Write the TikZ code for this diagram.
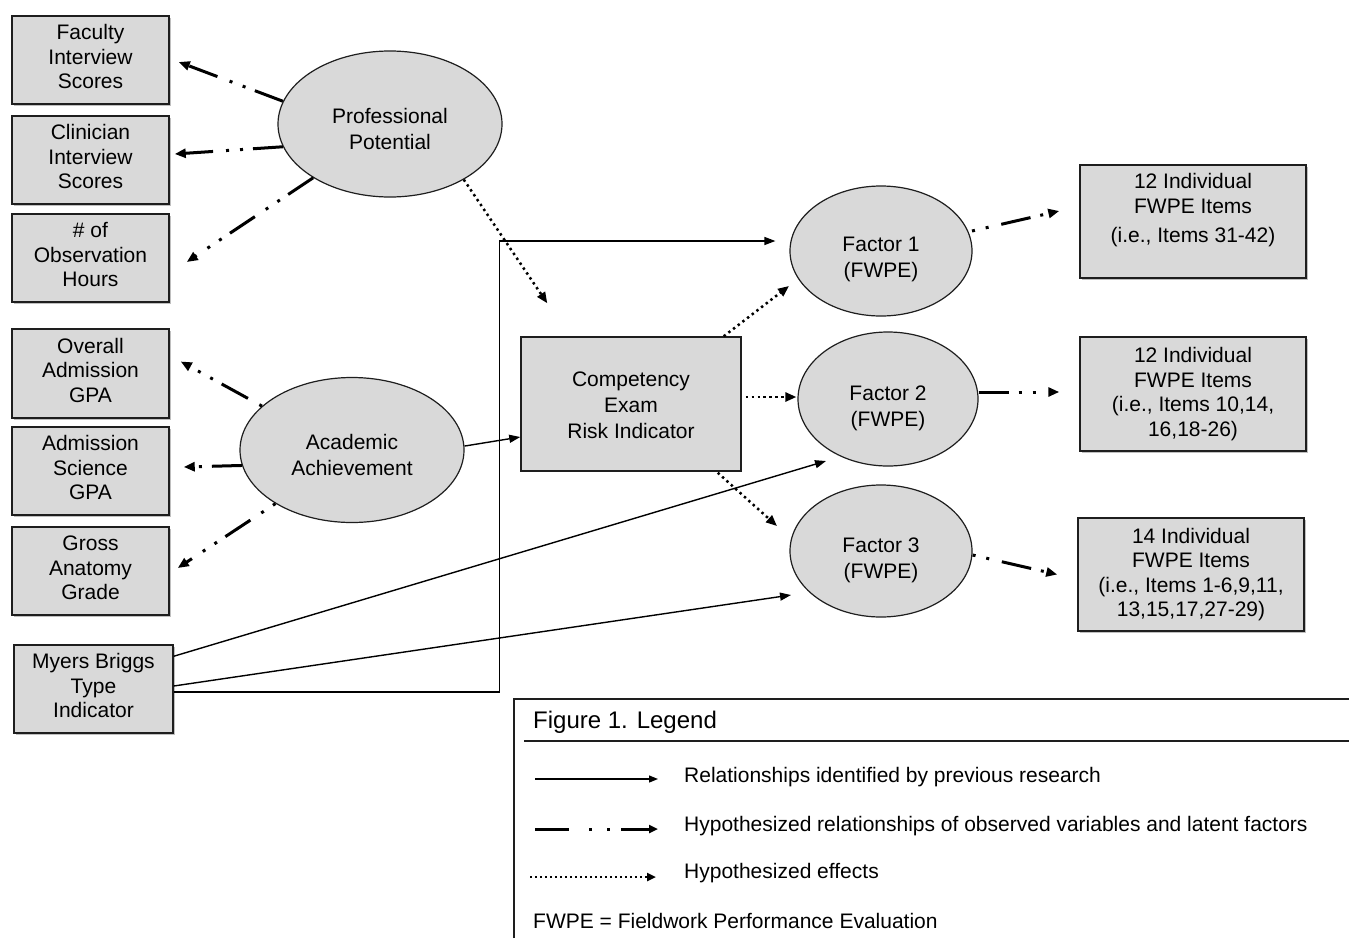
\documentclass[tikz,border=0pt]{standalone}
\usepackage{fontspec}
\setmainfont{Liberation Sans}
\usetikzlibrary{arrows.meta,shapes.geometric,shadows,calc}
\definecolor{boxgray}{RGB}{217,217,217}
\definecolor{edgegray}{RGB}{30,30,30}
\tikzset{
  obox/.style={draw=edgegray, line width=1.5pt, fill=boxgray, align=center, inner sep=0pt,
    font=\fontsize{21}{24.5}\selectfont,
    drop shadow={shadow xshift=2pt, shadow yshift=-2pt, opacity=0.25, fill=black}},
  cbox/.style={draw=edgegray, line width=1.5pt, fill=boxgray, align=center, inner sep=0pt,
    font=\fontsize{21}{26}\selectfont},
  lat/.style={ellipse, draw=edgegray, line width=1.2pt, fill=boxgray, align=center, inner sep=0pt,
    font=\fontsize{21}{26}\selectfont},
  solidarrow/.style={line width=1.4pt, -{Triangle[length=11pt,width=8pt]}},
  dashdotarrow/.style={line width=3pt, dash pattern=on 30pt off 10pt on 3pt off 11pt on 3pt off 13pt,
    -{Triangle[length=11pt,width=9pt]}},
  dotarrow/.style={line width=2.5pt, dash pattern=on 2.4pt off 3.5pt, -{Triangle[length=11pt,width=9pt]}},
  legtext/.style={anchor=west, inner sep=0pt, font=\fontsize{21}{25}\selectfont},
}
\newcommand{\lowtxt}[1]{\rule{0pt}{#1}}
\begin{document}
\begin{tikzpicture}[x=1pt,y=-1pt]
\useasboundingbox (0,0) rectangle (1349,938);
\fill[white] (0,0) rectangle (1349,938);

% left observed boxes
\node[obox, minimum width=157, minimum height=88] (fac) at (90.5,60) {Faculty\\Interview\\Scores\\[-18pt]\mbox{}};
\node[obox, minimum width=157, minimum height=88] (cli) at (90.5,160) {Clinician\\Interview\\Scores\\[-18pt]\mbox{}};
\node[obox, minimum width=157, minimum height=88] (obs) at (90.5,258) {\# of\\Observation\\Hours\\[-18pt]\mbox{}};
\node[obox, minimum width=157, minimum height=89] (ovr) at (90.5,373.5) {Overall\\Admission\\GPA\\[-18pt]\mbox{}};
\node[obox, minimum width=157, minimum height=88] (sci) at (90.5,471) {Admission\\Science\\GPA\\[-18pt]\mbox{}};
\node[obox, minimum width=157, minimum height=88] (gro) at (90.5,571) {Gross\\Anatomy\\Grade\\[-18pt]\mbox{}};
\node[obox, minimum width=159, minimum height=88] (mbt) at (93.5,689) {Myers Briggs\\Type\\Indicator\\[-18pt]\mbox{}};

% latent ellipses
\node[lat, minimum width=224, minimum height=146] (pp) at (390,124) {\lowtxt{25pt}Professional\\Potential};
\node[lat, minimum width=224, minimum height=145] (aa) at (352,450) {\lowtxt{25pt}Academic\\Achievement};
\node[lat, minimum width=182, minimum height=130] (f1) at (881,251) {\lowtxt{31pt}Factor 1\\(FWPE)};
\node[lat, minimum width=180, minimum height=134] (f2) at (888,399) {\lowtxt{34pt}Factor 2\\(FWPE)};
\node[lat, minimum width=182, minimum height=132] (f3) at (881,551) {\lowtxt{34pt}Factor 3\\(FWPE)};

% competency
\node[cbox, minimum width=220, minimum height=134] (comp) at (631,404) {\lowtxt{18pt}Competency\\Exam\\Risk Indicator};

% right boxes
\node[obox, minimum width=226, minimum height=113] (bA) at (1193,221.5) {12 Individual\\FWPE Items\\[5pt](i.e., Items 31-42)\\[2pt]\mbox{}};
\node[obox, minimum width=226, minimum height=114] (bB) at (1193,394) {12 Individual\\FWPE Items\\(i.e., Items 10,14,\\16,18-26)};
\node[obox, minimum width=226, minimum height=113] (bC) at (1191,574.5) {14 Individual\\FWPE Items\\(i.e., Items 1-6,9,11,\\13,15,17,27-29)};

% professional potential indicators
\draw[dashdotarrow] (pp.168) -- ($(fac.east)+(9,2)$);
\draw[dashdotarrow] (pp.192.7) -- ($(cli.east)+(5,-6)$);
\draw[dashdotarrow] (pp.215.8) -- ($(obs.east)+(17,4)$);
% academic achievement indicators
\draw[dashdotarrow, dash phase=54pt] (aa.154.8) -- ($(ovr.east)+(11,-12)$);
\draw[dashdotarrow] (aa.188.8) -- ($(sci.east)+(14,-4)$);
\draw[dashdotarrow, dash phase=40pt] (aa.215.5) -- ($(gro.east)+(8,-3)$);

% hypothesized effects
\draw[dotarrow] (pp.323.3) -- ($(comp.north west)+(27,-33)$);
\draw[dotarrow] ($(comp.north east)+(-18,0)$) -- ($(f1.center)+(-92,35)$);
\draw[dotarrow] ($(comp.east)+(4,-7)$) -- ($(f2.west)+(-1,-2)$);
\draw[dotarrow] ($(comp.south east)+(-24,1)$) -- ($(f3.center)+(-104,-25)$);

% previous research
\draw[solidarrow] (aa.2) -- ($(comp.west)+(0,33)$);
\coordinate (f1in) at ($(f1.west)+(-14,-10)$);
\draw[solidarrow] ($(mbt.east)+(0,3)$) -| ($(f1in)+(-276,0)$) -- (f1in);
\draw[solidarrow] ($(mbt.north east)+(0,12)$) -- ($(f2.center)+(-62,62)$);
\draw[solidarrow] ($(mbt.east)+(0,-3)$) -- ($(f3.center)+(-90,44)$);

% factor indicators
\draw[dashdotarrow, dash phase=40pt] ($(f1.center)+(91,-20)$) -- ($(bA.west)+(-20,-10.5)$);
\draw[dashdotarrow] ($(f2.east)+(0,-7)$) -- ($(bB.west)+(-20,-2)$);
\draw[dashdotarrow, dash phase=40pt] ($(f3.east)+(0,4)$) -- ($(bC.west)+(-20,0)$);

% legend
\coordinate (lgBL) at (514,938);
\coordinate (lgTL) at (514,699);
\coordinate (lgTR) at (1349,699);
\draw[line width=1.4pt, edgegray] (lgBL) -- (lgTL) -- (lgTR);
\node[legtext, font=\fontsize{24}{28}\selectfont] (lgtitle) at (533,722) {Figure 1. Legend};
\coordinate (rl) at (524,741);
\coordinate (rr) at (1349,741);
\draw[line width=1.3pt, edgegray] (rl) -- (rr);
\coordinate (l1a) at (535,779); \coordinate (l1b) at (658,779);
\coordinate (l2a) at (535,829); \coordinate (l2b) at (658,829);
\coordinate (l3a) at (530,877); \coordinate (l3b) at (656,877);
\draw[line width=1.3pt, -{Triangle[length=9pt,width=7pt]}] (l1a) -- (l1b);
\draw[line width=3pt, dash pattern=on 34pt off 20pt on 3pt off 15pt on 3pt off 11pt, -{Triangle[length=9pt,width=8pt]}] (l2a) -- (l2b);
\draw[line width=2.2pt, dash pattern=on 2pt off 3pt, -{Triangle[length=9pt,width=8pt]}] (l3a) -- (l3b);
\node[legtext] (lg1) at (684,777) {Relationships identified by previous research};
\node[legtext] (lg2) at (684,826) {Hypothesized relationships of observed variables and latent factors};
\node[legtext] (lg3) at (684,873) {Hypothesized effects};
\node[legtext] (lg4) at (533,921) {FWPE = Fieldwork Performance Evaluation};
\end{tikzpicture}
\end{document}
